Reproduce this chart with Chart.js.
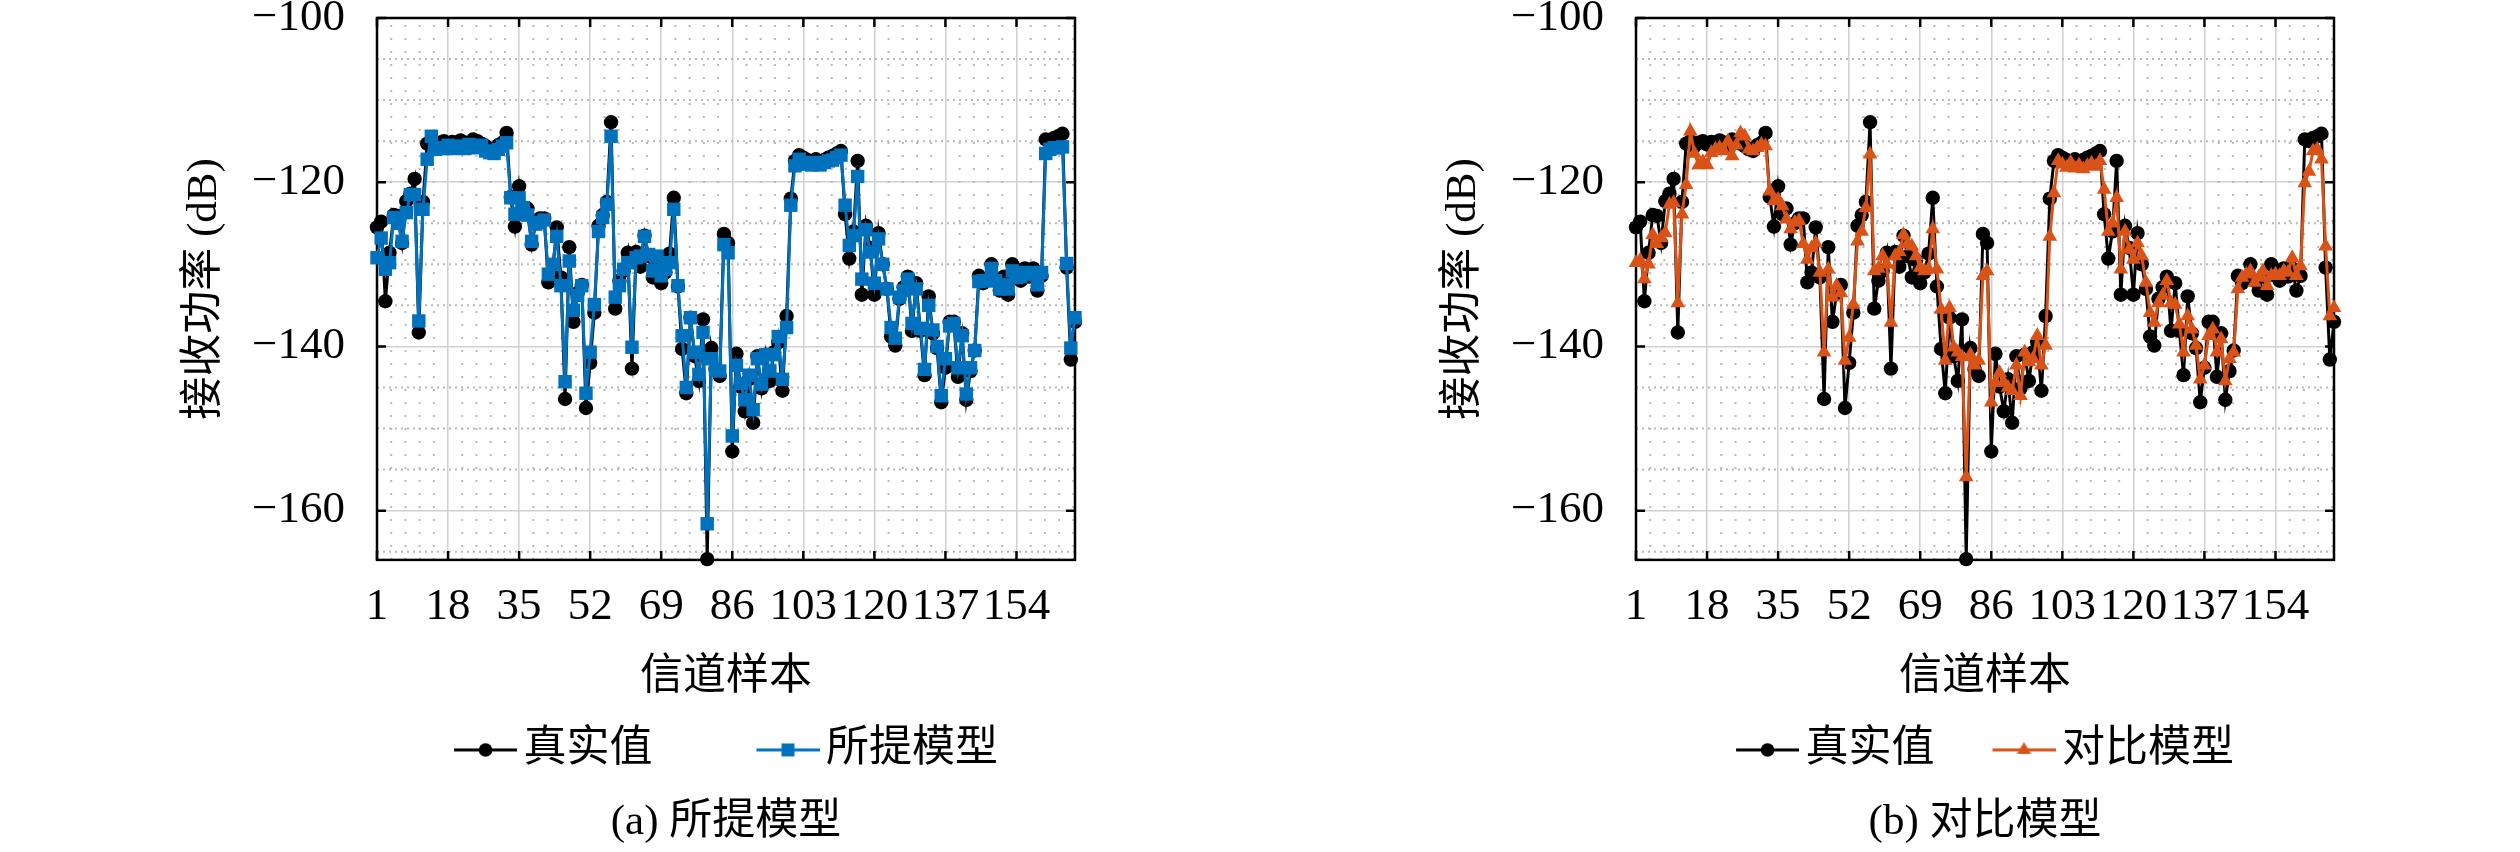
<!DOCTYPE html>
<html>
<head>
<meta charset="utf-8">
<title>接收功率对比</title>
<script src="https://cdn.jsdelivr.net/npm/chart.js@4.4.1/dist/chart.umd.min.js"></script>
<style>
  html, body { margin: 0; padding: 0; background: #fff; }
  #wrap { position: relative; width: 2520px; height: 852px; overflow: hidden; }
  #wrap canvas { position: absolute; top: 0; }
  #chartA { left: 0; }
  #chartB { left: 1259px; }
</style>
</head>
<body>
<div id="wrap">
  <canvas id="chartA" width="1300" height="852"></canvas>
  <canvas id="chartB" width="1300" height="852"></canvas>
</div>
<script>
// channel sample index 1..168
var samples = [];
for (var n = 1; n <= 168; n++) samples.push(n);

var xTicks = [1, 18, 35, 52, 69, 86, 103, 120, 137, 154];
var yTicks = [-160, -140, -120, -100];

// measured received power (dB)
var trueVals = [
  -125.5, -124.8, -134.5, -128.6, -124.0, -124.1, -127.4, -122.3, -121.4, -119.6,
  -138.3, -122.4, -115.3, -115.0, -115.6, -115.2, -115.0, -115.4, -115.1, -115.3,
  -114.9, -115.2, -115.5, -114.8, -115.0, -115.3, -115.6, -116.0, -116.2, -115.5,
  -115.2, -114.0, -121.8, -125.4, -120.5, -123.9, -123.2, -127.6, -125.0, -124.4,
  -124.4, -132.2, -131.0, -125.5, -131.6, -146.4, -127.9, -137.0, -133.5, -132.5,
  -147.5, -142.0, -135.9, -125.3, -124.0, -122.4, -112.7, -135.4, -132.0, -130.8,
  -128.6, -142.7, -128.5, -130.3, -126.5, -129.0, -131.6, -129.5, -132.3, -131.0,
  -128.7, -121.9, -132.7, -140.3, -145.7, -136.5, -141.2, -144.2, -136.7, -165.9,
  -140.2, -142.8, -143.6, -126.3, -127.4, -152.8, -140.9, -144.9, -147.9, -144.0,
  -149.3, -141.2, -145.1, -141.0, -144.2, -140.7, -139.5, -145.4, -136.3, -122.0,
  -117.4, -116.7, -117.0, -117.3, -117.5, -117.2, -117.6, -117.3, -117.0, -116.8,
  -116.5, -116.2, -123.9, -129.3, -126.0, -117.4, -133.7, -125.3, -128.0, -133.7,
  -126.2, -130.0, -133.0, -138.8, -139.9, -134.2, -132.8, -131.5, -138.1, -132.3,
  -138.1, -143.5, -133.9, -138.4, -140.2, -146.8, -142.6, -137.0, -137.0, -143.7,
  -138.4, -146.5, -143.0, -140.5, -131.4, -132.3, -131.8, -130.0, -132.0, -133.2,
  -131.5, -133.7, -130.0, -131.4, -132.0, -130.5, -131.5, -130.5, -133.2, -131.4,
  -114.8, -115.0, -114.6, -114.4, -114.1, -130.4, -141.6, -137.0
];

// proposed model prediction (dB)
var propVals = [
  -129.2, -126.8, -130.6, -129.8, -124.3, -125.0, -127.2, -123.7, -121.5, -121.5,
  -136.9, -123.3, -117.2, -114.4, -116.0, -115.8, -115.9, -115.5, -115.9, -115.7,
  -115.6, -115.9, -115.4, -115.6, -115.8, -115.5, -116.2, -116.4, -116.5, -116.0,
  -115.6, -115.2, -121.9, -123.9, -121.9, -123.1, -124.0, -127.2, -125.1, -124.9,
  -124.6, -131.2, -130.0, -126.6, -132.6, -144.3, -129.6, -135.6, -133.8, -132.6,
  -145.7, -140.7, -134.9, -126.0, -124.3, -122.7, -114.4, -134.0, -132.6, -130.6,
  -129.8, -140.1, -129.2, -129.0, -126.6, -128.8, -130.8, -129.0, -131.4, -130.6,
  -129.8, -123.3, -132.6, -138.7, -145.0, -136.5, -140.7, -143.4, -138.3, -161.6,
  -141.5, -142.8, -143.0, -127.6, -128.6, -150.9, -142.3, -144.5, -146.5, -143.5,
  -147.7, -141.5, -144.6, -141.0, -143.0, -141.0, -138.8, -144.0, -137.7, -122.8,
  -118.0, -117.2, -117.6, -117.8, -117.9, -117.6, -117.9, -117.6, -117.4, -117.3,
  -117.0, -116.7, -122.8, -127.7, -126.5, -119.3, -131.8, -125.8, -128.5, -132.3,
  -126.9, -130.0, -133.0, -137.7, -139.0, -134.0, -133.2, -131.8, -137.2, -133.0,
  -137.8, -142.8, -135.0, -138.0, -140.0, -146.0, -141.5, -137.5, -137.2, -142.6,
  -138.7, -145.8, -142.6, -140.5, -132.1, -132.0, -132.0, -130.5, -132.0, -133.0,
  -132.5, -133.0, -130.8, -131.6, -131.5, -131.0, -131.2, -131.0, -132.5, -131.0,
  -116.5, -116.0, -115.8, -115.8, -115.7, -129.9, -140.2, -136.5
];

// comparison model prediction (dB)
var compVals = [
  -129.8, -129.5, -131.8, -130.0, -126.4, -127.5, -126.8, -126.2, -122.7, -122.5,
  -134.7, -123.9, -120.3, -113.8, -116.5, -117.9, -117.5, -117.9, -116.4, -116.0,
  -115.8, -116.2, -115.0, -116.8, -115.5, -114.0, -114.4, -116.0, -116.2, -115.8,
  -115.4, -115.6, -121.1, -122.3, -122.1, -122.9, -124.5, -125.7, -124.9, -124.7,
  -127.5, -129.4, -128.0, -127.4, -131.0, -140.7, -130.6, -134.0, -132.6, -133.5,
  -141.7, -138.9, -134.9, -127.2, -126.0, -123.1, -116.6, -130.8, -130.5, -129.0,
  -130.0, -137.1, -129.0, -128.5, -126.4, -127.5, -127.8, -129.0, -130.4, -130.8,
  -130.6, -125.7, -130.6, -135.5, -141.7, -135.3, -140.1, -140.7, -141.3, -155.9,
  -141.0, -142.3, -141.7, -131.4, -130.8, -146.8, -144.4, -143.2, -144.4, -145.0,
  -145.4, -142.3, -146.0, -140.7, -141.9, -141.5, -138.7, -142.3, -139.9, -126.6,
  -121.3, -117.4, -117.8, -118.2, -117.6, -118.3, -117.9, -118.4, -118.0, -117.7,
  -118.1, -117.4, -120.9, -126.0, -125.0, -121.9, -130.6, -126.0, -128.2, -129.4,
  -127.4, -129.0, -132.2, -135.9, -137.1, -134.7, -133.8, -132.0, -134.7, -134.9,
  -137.3, -140.7, -136.3, -137.9, -139.9, -144.0, -142.3, -138.7, -137.9, -140.7,
  -139.1, -144.2, -141.5, -140.7, -133.0, -131.6, -131.2, -130.8, -132.2, -131.6,
  -130.8, -132.6, -131.4, -131.2, -131.4, -130.8, -131.0, -129.2, -131.4, -130.2,
  -120.1, -118.7, -116.2, -116.0, -117.2, -127.8, -136.3, -135.3
];

var FONT = "'Liberation Serif', 'Noto Sans CJK SC', serif";
var FS = 43;      // titles, legend, caption
var TICK_FS = 45; // tick numbers

function pts(vals) {
  return vals.map(function(v, i) { return { x: samples[i], y: v }; });
}

// small line + marker picture for the legend entries
function legendIcon(color, marker) {
  var c = document.createElement('canvas');
  c.width = 78; c.height = 22;
  var g = c.getContext('2d');
  g.strokeStyle = color;
  g.fillStyle = color;
  g.lineWidth = 3;
  g.beginPath(); g.moveTo(15, 11); g.lineTo(78, 11); g.stroke();
  g.beginPath();
  if (marker === 'circle') {
    g.arc(46.5, 11, 6.8, 0, Math.PI * 2);
  } else if (marker === 'rect') {
    g.rect(40, 4.5, 13, 13);
  } else {
    g.moveTo(46.5, 3); g.lineTo(53.5, 15); g.lineTo(39.5, 15); g.closePath();
  }
  g.fill();
  return c;
}

// dotted minor grid, closed frame and inward tick marks
var framePlugin = {
  id: 'frame',
  beforeDatasetsDraw: function(chart) {
    var ctx = chart.ctx, a = chart.chartArea;
    var xs = chart.scales.x, ys = chart.scales.y;
    ctx.save();
    ctx.strokeStyle = '#b9b9b9';
    ctx.lineWidth = 2;
    ctx.setLineDash([2, 11]);
    xTicks.concat([171]).forEach(function(m) {
      for (var k = 1; k < 5; k++) {
        var v = m - 17 + k * 3.4;
        if (v <= 1 || v >= 168) continue;
        var px = xs.getPixelForValue(v);
        ctx.beginPath(); ctx.moveTo(px, a.bottom); ctx.lineTo(px, a.top); ctx.stroke();
      }
    });
    ctx.setLineDash([2, 4]);
    for (var v = -165; v < -100; v += 5) {
      if (v % 20 === 0) continue;
      var py = ys.getPixelForValue(v);
      ctx.beginPath(); ctx.moveTo(a.left, py); ctx.lineTo(a.right, py); ctx.stroke();
    }
    ctx.setLineDash([]);
    ctx.strokeStyle = '#000';
    ctx.lineWidth = 2.5;
    ctx.strokeRect(a.left, a.top, a.right - a.left, a.bottom - a.top);
    xTicks.forEach(function(t) {
      var px = xs.getPixelForValue(t);
      ctx.beginPath();
      ctx.moveTo(px, a.bottom); ctx.lineTo(px, a.bottom - 9);
      ctx.moveTo(px, a.top); ctx.lineTo(px, a.top + 9);
      ctx.stroke();
    });
    yTicks.forEach(function(t) {
      var py = ys.getPixelForValue(t);
      ctx.beginPath();
      ctx.moveTo(a.left, py); ctx.lineTo(a.left + 9, py);
      ctx.moveTo(a.right, py); ctx.lineTo(a.right - 9, py);
      ctx.stroke();
    });
    ctx.restore();
  }
};

function makeChart(id, model, caption) {
  // legend row centre at y=750, x title centre at y=677.5, plot bottom at y=560
  var legendTop = 750 - model.gap - FS / 2;
  var axisH = legendTop - 560;
  var xTitlePad = (legendTop - 677.5) - FS * 1.2 / 2;

  var icons = [legendIcon('#000', 'circle'), legendIcon(model.color, model.marker)];

  return new Chart(document.getElementById(id), {
    type: 'line',
    data: {
      datasets: [
        {
          label: model.label,
          data: pts(model.values),
          borderColor: model.color,
          backgroundColor: model.color,
          pointBorderColor: model.color,
          pointBackgroundColor: model.color,
          pointStyle: model.marker,
          pointRadius: model.radius,
          pointBorderWidth: 0,
          borderWidth: 3,
          tension: 0,
          clip: false
        },
        {
          label: '真实值',
          data: pts(trueVals),
          borderColor: '#000',
          backgroundColor: '#000',
          pointBorderColor: '#000',
          pointBackgroundColor: '#000',
          pointStyle: 'circle',
          pointRadius: 7.2,
          pointBorderWidth: 0,
          borderWidth: 3,
          tension: 0,
          clip: false
        }
      ]
    },
    options: {
      responsive: false,
      devicePixelRatio: 1,
      animation: false,
      events: [],
      layout: { padding: { left: 179, right: 27, top: 18, bottom: 3 } },
      scales: {
        x: {
          type: 'linear',
          min: 1,
          max: 168,
          afterBuildTicks: function(s) { s.ticks = xTicks.map(function(v) { return { value: v }; }); },
          afterFit: function(s) { s.height = axisH; s.paddingLeft = 0; s.paddingRight = 0; },
          grid: { color: '#d0d0d0', lineWidth: 1.5, drawTicks: false },
          border: { display: false },
          ticks: {
            autoSkip: false, maxRotation: 0, minRotation: 0, padding: 20,
            color: '#000', font: { family: FONT, size: TICK_FS }
          },
          title: {
            display: true, text: '信道样本', color: '#000',
            font: { family: FONT, size: FS },
            padding: { top: 0, bottom: xTitlePad }
          }
        },
        y: {
          min: -166,
          max: -100,
          afterBuildTicks: function(s) { s.ticks = yTicks.map(function(v) { return { value: v }; }); },
          afterFit: function(s) { s.width = 198; s.paddingTop = 0; s.paddingBottom = 0; },
          grid: { color: '#d0d0d0', lineWidth: 1.5, drawTicks: false },
          border: { display: false },
          ticks: {
            padding: 32, color: '#000', font: { family: FONT, size: TICK_FS },
            callback: function(v) { return String(v).replace('-', '\u2212'); }
          },
          title: {
            display: true, text: '接收功率 (dB)', color: '#000',
            font: { family: FONT, size: FS },
            padding: { top: 0, bottom: 0 }
          }
        },
        // empty right-hand band, same width as the y axis, so legend and caption centre on the plot
        yRight: {
          position: 'right',
          min: -166,
          max: -100,
          afterFit: function(s) { s.width = 198; s.paddingTop = 0; s.paddingBottom = 0; },
          grid: { display: false, drawTicks: false },
          border: { display: false },
          ticks: { display: false }
        }
      },
      plugins: {
        tooltip: { enabled: false },
        legend: {
          position: 'bottom',
          labels: {
            usePointStyle: true,
            pointStyleWidth: 48,
            padding: model.gap,
            color: '#000',
            font: { family: FONT, size: FS },
            generateLabels: function() {
              return [
                { text: '真实值', pointStyle: icons[0], fontColor: '#000', lineWidth: 0, datasetIndex: 1 },
                { text: model.label, pointStyle: icons[1], fontColor: '#000', lineWidth: 0, datasetIndex: 0 }
              ];
            }
          }
        },
        title: {
          display: true,
          position: 'bottom',
          text: caption,
          color: '#000',
          font: { family: FONT, size: FS, weight: 'normal' },
          padding: { top: 16, bottom: 0 }
        }
      }
    },
    plugins: [framePlugin]
  });
}

makeChart('chartA', { label: '所提模型', values: propVals, color: '#0072BD', marker: 'rect', radius: 9.5, gap: 104 }, '(a) 所提模型');
makeChart('chartB', { label: '对比模型', values: compVals, color: '#D95319', marker: 'triangle', radius: 8.5, gap: 58 }, '(b) 对比模型');
</script>
</body>
</html>
